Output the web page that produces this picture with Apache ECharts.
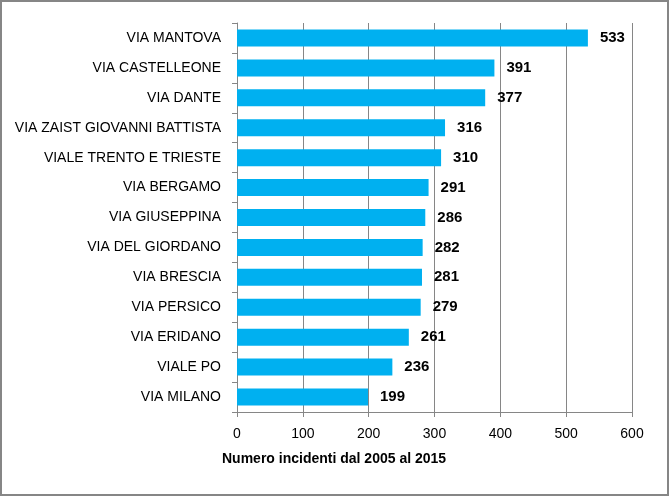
<!DOCTYPE html>
<html>
<head>
<meta charset="utf-8">
<script src="https://cdn.jsdelivr.net/npm/echarts@6/dist/echarts.min.js"></script>
<style>
html,body{margin:0;padding:0;background:#fff;}
#chart{width:669px;height:496px;}
</style>
</head>
<body>
<div id="chart"></div>
<script>
const categories = [
  "VIA MANTOVA",
  "VIA CASTELLEONE",
  "VIA DANTE",
  "VIA ZAIST GIOVANNI BATTISTA",
  "VIALE TRENTO E TRIESTE",
  "VIA BERGAMO",
  "VIA GIUSEPPINA",
  "VIA DEL GIORDANO",
  "VIA BRESCIA",
  "VIA PERSICO",
  "VIA ERIDANO",
  "VIALE PO",
  "VIA MILANO"
];
const values = [533, 391, 377, 316, 310, 291, 286, 282, 281, 279, 261, 236, 199];
const axisTitle = "Numero incidenti dal 2005 al 2015";

const chart = echarts.init(document.getElementById('chart'), null, {renderer: 'canvas'});
const font = "'Liberation Sans', Arial, sans-serif";
chart.setOption({
  animation: false,
  backgroundColor: '#fff',
  grid: {left: 237, right: 37, top: 23, bottom: 84, containLabel: false},
  xAxis: {
    type: 'value',
    min: 0, max: 600, interval: 100,
    axisLine: {show: true, lineStyle: {color: '#868686', width: 1}},
    axisTick: {show: true, length: 5, lineStyle: {color: '#868686'}},
    splitLine: {show: true, lineStyle: {color: '#868686', width: 1}},
    axisLabel: {color: '#000', fontFamily: font, fontSize: 14, margin: 15}
  },
  yAxis: {
    type: 'category',
    data: categories,
    inverse: true,
    axisLine: {show: true, lineStyle: {color: '#868686', width: 1}},
    axisTick: {show: true, length: 5, lineStyle: {color: '#868686'}},
    axisLabel: {color: '#000', fontFamily: font, fontSize: 14, margin: 16}
  },
  series: [{
    type: 'bar',
    data: values,
    barWidth: 17,
    itemStyle: {color: '#00B0F0'},
    label: {
      show: true, position: 'right', distance: 12,
      color: '#000', fontFamily: font, fontSize: 15, fontWeight: 'bold'
    }
  }],
  graphic: [
    {type: 'text', left: 222, top: 452, style: {text: axisTitle, fill: '#000', font: 'bold 14px ' + font}},
    {type: 'rect', shape: {x: 1, y: 1, width: 667, height: 494}, style: {fill: 'none', stroke: '#868686', lineWidth: 2}, silent: true}
  ]
});
</script>
</body>
</html>
